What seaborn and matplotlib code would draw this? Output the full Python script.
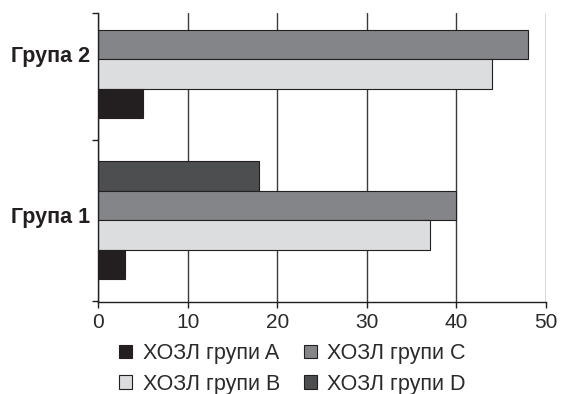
import pandas as pd
import matplotlib.pyplot as plt
import matplotlib.transforms as mtransforms
import seaborn as sns

# values
groups = ['Група 1', 'Група 2']
series = ['ХОЗЛ групи A', 'ХОЗЛ групи B', 'ХОЗЛ групи C', 'ХОЗЛ групи D']
copd_a = [3, 5]
copd_b = [37, 44]
copd_c = [40, 48]
copd_d = [18, None]
colors = ['#231f20', '#dcdddf', '#848588', '#4d4e50']

sns.set_style('ticks')
plt.rcParams['font.family'] = ['Liberation Sans', 'DejaVu Sans']

rows = []
for name, vals in zip(series, [copd_a, copd_b, copd_c, copd_d]):
    for g, v in zip(groups, vals):
        rows.append({'group': g, 'series': name, 'value': v})
df = pd.DataFrame(rows).dropna(subset=['value'])

fig = plt.figure(figsize=(5.69, 3.94), dpi=100)
ax = fig.add_axes([98 / 569, 1 - 302 / 394, 448 / 569, 289 / 394])

# grid first so bars sit on top
ax.set_axisbelow(True)
ax.xaxis.grid(True, color='#3a3a3a', linewidth=1.0)

sns.barplot(data=df, y='group', x='value', hue='series',
            order=['Група 2', 'Група 1'], hue_order=series[::-1],
            palette=dict(zip(series, colors)), width=0.733,
            edgecolor='#231f20', linewidth=0.8, saturation=1, ax=ax)

ax.set_xlim(0, 50)
ax.set_ylim(1.509, -0.286)
ax.set_xticks([0, 10, 20, 30, 40, 50])
ax.set_xlabel('')
ax.set_ylabel('')

ax.set_yticks([-0.286, 0.5, 1.5], minor=True)
ax.tick_params(axis='y', which='major', length=0, pad=6)
ax.tick_params(axis='y', which='minor', length=4, width=1, color='#231f20')
ax.tick_params(axis='x', length=4, width=1, color='#231f20', labelsize=15,
               labelcolor='#2a2a2a', pad=4)
# group labels sit a little above the bar-group centre in the original
shift = mtransforms.ScaledTranslation(0, 0.05, fig.dpi_scale_trans)
for lbl in ax.get_yticklabels():
    lbl.set_fontweight('bold')
    lbl.set_fontsize(15.5)
    lbl.set_color('#231f20')
    lbl.set_transform(lbl.get_transform() + shift)

sns.despine(ax=ax)
for side in ['left', 'bottom']:
    ax.spines[side].set_color('#231f20')
    ax.spines[side].set_linewidth(1.0)

handles, labels = ax.get_legend_handles_labels()
ax.get_legend().remove()
lookup = dict(zip(labels, handles))
ax.legend([lookup[s] for s in series], series, ncol=2, frameon=False,
          loc='upper left', bbox_to_anchor=(119 / 569, 1 - 343 / 394),
          bbox_transform=fig.transFigure, fontsize=15.5, labelcolor='#2a2a2a',
          handlelength=0.6, handleheight=0.6, handletextpad=0.5,
          columnspacing=1.1, labelspacing=0.45, borderpad=0, borderaxespad=0)

fig.savefig('out.png', dpi=100)
